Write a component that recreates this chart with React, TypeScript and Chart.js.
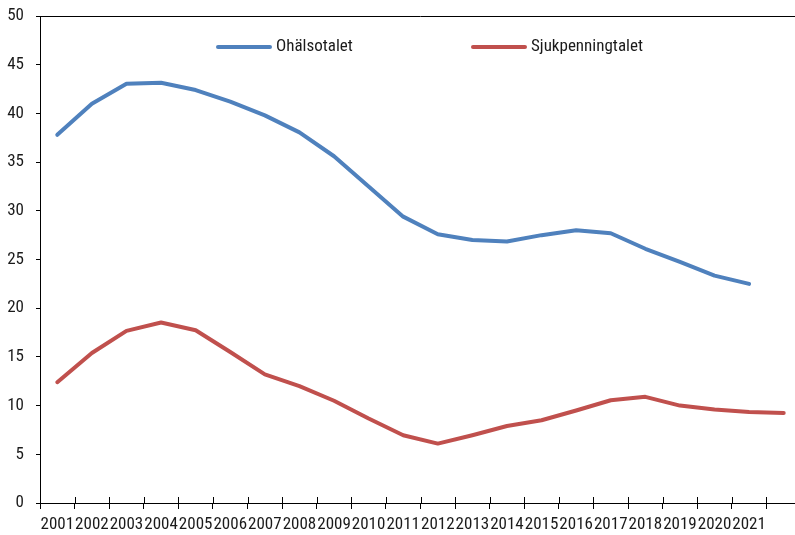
import React, { useEffect, useRef } from "react";
import { Chart, registerables } from "chart.js";

Chart.register(...registerables);

const years = [
  "2001", "2002", "2003", "2004", "2005", "2006", "2007", "2008", "2009", "2010", "2011",
  "2012", "2013", "2014", "2015", "2016", "2017", "2018", "2019", "2020", "2021", "2022",
];
const tickLabels = [
  "2001", "2002", "2003", "2004", "2005", "2006", "2007", "2008", "2009", "2010", "2011",
  "2012", "2013", "2014", "2015", "2016", "2017", "2018", "2019", "2020", "2021",
];
const ohalsotalet = [
  37.8, 41.0, 43.05, 43.15, 42.4, 41.2, 39.8, 38.05, 35.6, 32.5, 29.4,
  27.6, 27.0, 26.85, 27.5, 28.0, 27.7, 26.1, 24.75, 23.35, 22.5, null,
];
const sjukpenningtalet = [
  12.4, 15.4, 17.67, 18.53, 17.74, 15.5, 13.2, 12.0, 10.5, 8.67, 6.96,
  6.1, 6.96, 7.9, 8.5, 9.5, 10.55, 10.9, 10.0, 9.6, 9.35, 9.25,
];

const FONT = "'Roboto Condensed', 'DejaVu Sans Condensed', sans-serif";
const BLUE = "#4F81BD";
const RED = "#C0504D";
const TEXT = "#1a1a1a";

const framePlugin = {
  id: "frame",
  afterDraw(chart: any) {
    const { ctx, chartArea, scales } = chart;
    const x = scales.x;
    ctx.save();
    ctx.strokeStyle = "#000";
    ctx.lineWidth = 1;
    // top border
    ctx.beginPath();
    ctx.moveTo(chartArea.left, Math.round(chartArea.top) + 0.5);
    ctx.lineTo(chartArea.right, Math.round(chartArea.top) + 0.5);
    ctx.stroke();
    // inward part of x tick marks at category boundaries
    const n = chart.data.labels.length;
    const step = (x.right - x.left) / n;
    const yb = Math.round(chartArea.bottom);
    ctx.beginPath();
    for (let i = 1; i <= n; i++) {
      const px = Math.round(x.left + i * step) + 0.5;
      ctx.moveTo(px, yb - 6);
      ctx.lineTo(px, yb);
    }
    ctx.stroke();

    // legend
    ctx.font = `17px ${FONT}`;
    ctx.textBaseline = "middle";
    ctx.fillStyle = TEXT;
    const ly = chartArea.top + 31;
    const starts = [chartArea.left + 178, chartArea.left + 433];
    chart.data.datasets.forEach((ds: any, i: number) => {
      const sx = starts[i];
      ctx.strokeStyle = ds.borderColor;
      ctx.lineWidth = 4;
      ctx.lineCap = "round";
      ctx.beginPath();
      ctx.moveTo(sx, ly);
      ctx.lineTo(sx + 52, ly);
      ctx.stroke();
      ctx.fillText(ds.label, sx + 58, ly);
    });
    ctx.restore();
  },
};

export default function App() {
  const ref = useRef<HTMLCanvasElement | null>(null);
  useEffect(() => {
    if (!ref.current) return;
    const chart = new Chart(ref.current, {
      type: "line",
      data: {
        labels: years,
        datasets: [
          {
            label: "Ohälsotalet",
            data: ohalsotalet,
            borderColor: BLUE,
            backgroundColor: BLUE,
            borderWidth: 4,
            pointRadius: 0,
            tension: 0,
            borderCapStyle: "round",
            borderJoinStyle: "round",
          },
          {
            label: "Sjukpenningtalet",
            data: sjukpenningtalet,
            borderColor: RED,
            backgroundColor: RED,
            borderWidth: 4,
            pointRadius: 0,
            tension: 0,
            borderCapStyle: "round",
            borderJoinStyle: "round",
          },
        ],
      },
      options: {
        animation: false,
        responsive: false,
        devicePixelRatio: 1,
        layout: { padding: { top: 16, right: 0, left: 0, bottom: 0 } },
        plugins: { legend: { display: false }, tooltip: { enabled: false } },
        scales: {
          x: {
            type: "category",
            offset: true,
            grid: {
              offset: true,
              drawOnChartArea: false,
              drawTicks: true,
              tickLength: 6,
              color: "#000",
            },
            border: { display: true, color: "#000", width: 1 },
            ticks: {
              autoSkip: false,
              maxRotation: 0,
              minRotation: 0,
              padding: 6,
              color: TEXT,
              font: { family: FONT, size: 17 },
              callback: (_v: any, i: number) => (i < tickLabels.length ? tickLabels[i] : ""),
            },
            afterFit: (s: any) => {
              s.height = 32;
              s.paddingLeft = 0;
              s.paddingRight = 0;
            },
          },
          y: {
            min: 0,
            max: 50,
            grid: {
              drawOnChartArea: false,
              drawTicks: true,
              tickLength: 4,
              color: "#000",
            },
            border: { display: true, color: "#000", width: 1 },
            ticks: {
              stepSize: 5,
              padding: 12,
              color: TEXT,
              font: { family: FONT, size: 17 },
            },
            afterFit: (s: any) => {
              s.width = 40;
              s.paddingTop = 0;
              s.paddingBottom = 0;
            },
          },
        },
      },
      plugins: [framePlugin],
    });
    return () => chart.destroy();
  }, []);
  return (
    <div
      style={{
        position: "absolute",
        left: 0,
        top: 0,
        width: 795,
        height: 535,
        overflow: "hidden",
        background: "#fff",
      }}
    >
      <canvas ref={ref} width={801} height={535} style={{ display: "block" }} />
    </div>
  );
}
